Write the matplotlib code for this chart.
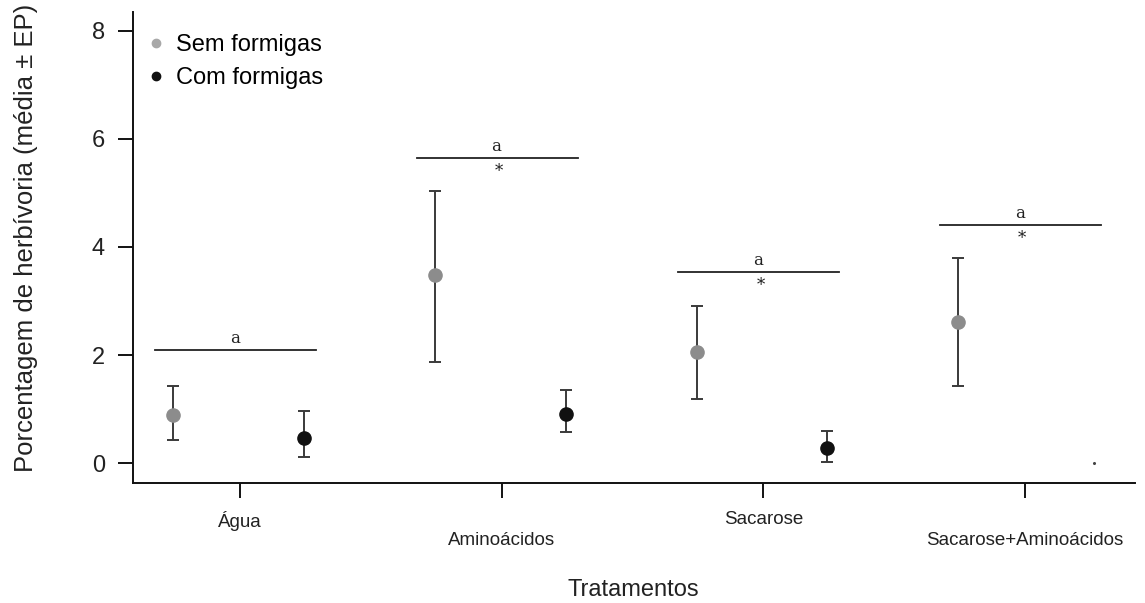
import numpy as np
import matplotlib
matplotlib.use("Agg")
import matplotlib.pyplot as plt

plt.rcParams['font.family'] = ['Liberation Sans', 'DejaVu Sans']

# Herbivory means and standard errors per treatment
tratamentos = ['Água', 'Aminoácidos', 'Sacarose', 'Sacarose+Aminoácidos']
sem_media = [0.88, 3.48, 2.05, 2.62]
sem_inf = [0.43, 1.87, 1.18, 1.42]
sem_sup = [1.43, 5.03, 2.90, 3.80]
com_media = [0.46, 0.91, 0.28, 0.0]
com_inf = [0.12, 0.57, 0.02, 0.0]
com_sup = [0.97, 1.35, 0.60, 0.0]

# Comparison bars: height, letter and whether the ant effect was significant
barra_altura = [2.09, 5.65, 3.54, 4.41]
barra_letra = ['a', 'a', 'a', 'a']
barra_sig = [False, True, True, True]

x = np.arange(len(tratamentos))
off_sem, off_com = -0.255, 0.245

fig = plt.figure(figsize=(11.45, 6.03), dpi=100)
ax = fig.add_axes([0.116, 0.199, 0.875, 0.781])

sem_err = [np.array(sem_media) - np.array(sem_inf), np.array(sem_sup) - np.array(sem_media)]
ax.errorbar(x + off_sem, sem_media, yerr=sem_err, fmt='none', ecolor='#3a3a3a',
            elinewidth=1.4, capsize=4.5, capthick=1.4, zorder=2)
ax.plot(x + off_sem, sem_media, 'o', color='#8c8c8c', markersize=9.5, zorder=3)

# last treatment has no measurable damage with ants: just a speck
com_err = [np.array(com_media) - np.array(com_inf), np.array(com_sup) - np.array(com_media)]
ax.errorbar(x[:3] + off_com, com_media[:3], yerr=[e[:3] for e in com_err], fmt='none',
            ecolor='#3a3a3a', elinewidth=1.4, capsize=4.5, capthick=1.4, zorder=2)
ax.plot(x[:3] + off_com, com_media[:3], 'o', color='#111111', markersize=9.5, zorder=3)
ax.plot(x[3] + off_com + 0.02, com_media[3], 'o', color='#444444', markersize=1.2, zorder=3)

for xi, h, letra, sig in zip(x, barra_altura, barra_letra, barra_sig):
    ax.plot([xi - 0.325, xi + 0.29], [h, h], color='#222222', lw=1.3)
    ax.text(xi - 0.02, h + 0.06, letra, ha='center', va='bottom',
            family='DejaVu Serif', fontsize=12, color='#222222')
    if sig:
        ax.text(xi - 0.01, h - 0.1, '*', ha='center', va='top',
                family='DejaVu Serif', fontsize=12, color='#222222')

# legend drawn by hand entries
ax.plot([], [], 'o', color='#a8a8a8', markersize=6, label='Sem formigas')
ax.plot([], [], 'o', color='#111111', markersize=6, label='Com formigas')
ax.legend(loc='upper left', frameon=False, fontsize=17, handlelength=0.6,
          handletextpad=0.55, labelspacing=0.45, borderaxespad=0.55,
          bbox_to_anchor=(-0.006, 1.0))

ax.set_xlim(-0.41, 3.42)
ax.set_ylim(-0.37, 8.35)
ax.set_yticks([0, 2, 4, 6, 8])
ax.set_xticks(x)
ax.set_xticklabels(tratamentos, fontsize=13.5, color='#222222')
for i, tick in enumerate(ax.xaxis.get_major_ticks()):
    tick.set_pad(9 if i % 2 == 0 else 24)
ax.tick_params(axis='y', labelsize=17, length=11, width=1.3, pad=9, labelcolor='#222222')
ax.tick_params(axis='x', length=11, width=1.3)

for s in ['top', 'right']:
    ax.spines[s].set_visible(False)
for s in ['left', 'bottom']:
    ax.spines[s].set_linewidth(1.4)
    ax.spines[s].set_color('#111111')

ax.set_xlabel('Tratamentos', fontsize=17, color='#222222', labelpad=22)
ax.set_ylabel('Porcentagem de herbívoria (média ± EP)', fontsize=18.5, color='#222222', labelpad=16)
ax.yaxis.set_label_coords(-0.095, 0.52)

fig.savefig('out.png', dpi=100)
